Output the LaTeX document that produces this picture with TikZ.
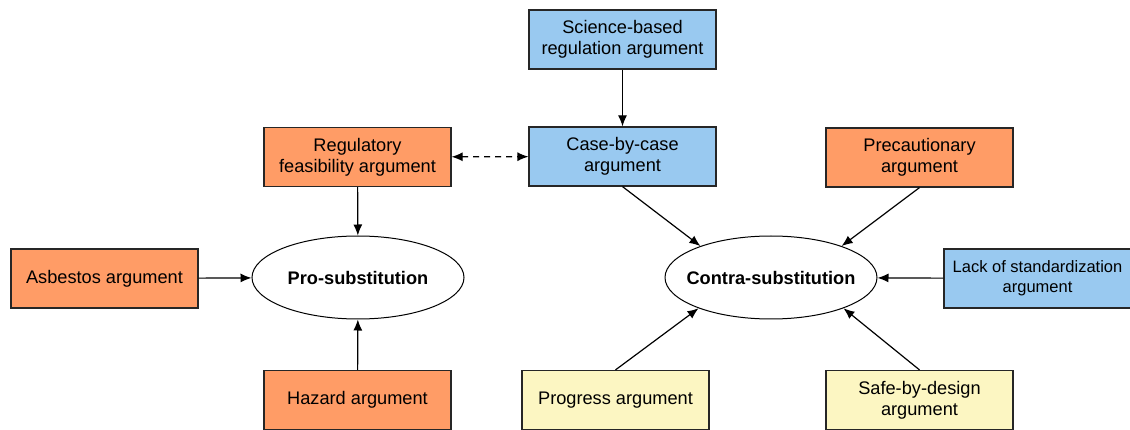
\documentclass[tikz,border=0pt]{standalone}
\usepackage{fontspec}
\setmainfont{Liberation Sans}
\usetikzlibrary{arrows.meta,shapes.geometric}
\definecolor{orng}{HTML}{FF9C66}
\definecolor{blu}{HTML}{99C9F0}
\definecolor{ylw}{HTML}{FCF6C2}
\tikzset{
  box/.style={draw=black!85, line width=1.2pt, minimum width=187pt, minimum height=59pt, inner sep=2pt, align=center, font=\fontsize{18.2}{21}\selectfont},
  obox/.style={box, fill=orng},
  bbox/.style={box, fill=blu},
  ybox/.style={box, fill=ylw},
  oval/.style={draw=black, line width=1pt, ellipse, minimum width=212pt, minimum height=83pt, inner sep=0pt, font=\fontsize{18.2}{21}\selectfont\bfseries},
  arr/.style={line width=1.2pt, -{Latex[length=11pt,width=9pt]}},
  darr/.style={line width=1.2pt, dashed, dash pattern=on 6pt off 5pt, {Latex[length=11pt,width=9pt]}-{Latex[length=11pt,width=9pt]}}
}
\begin{document}
\begin{tikzpicture}[x=1pt,y=-1pt]
\useasboundingbox (0,0) rectangle (1130,430);
\node[obox] (reg) at (357.5,157) {Regulatory\\feasibility argument};
\node[obox] (asb) at (104.5,278.5) {Asbestos argument};
\node[oval] (pro) at (358,277.5) {\makebox[0pt][c]{Pro-substitution}};
\node[obox] (haz) at (357.5,400) {Hazard argument};
\node[bbox] (sci) at (622.5,39.5) {Science-based\\regulation argument};
\node[bbox] (cbc) at (622.5,156.5) {Case-by-case\\argument};
\node[obox] (pre) at (919.5,157.5) {Precautionary\\argument};
\node[oval] (con) at (771,277.5) {\makebox[0pt][c]{Contra-substitution}};
\node[bbox, font=\fontsize{16.5}{20}\selectfont] (lack) at (1037.5,278.5) {Lack of standardization\\argument};
\node[ybox] (prog) at (615.5,400) {Progress argument};
\node[ybox] (safe) at (919.5,400) {Safe-by-design\\argument};
\draw[arr] (reg) -- (pro);
\draw[arr] (asb) -- (pro);
\draw[arr] (haz) -- (pro);
\draw[arr] (sci) -- (cbc);
\draw[darr] (reg) -- (cbc);
\draw[arr] (cbc.south) -- (con.156);
\draw[arr] (pre.south) -- (con.24);
\draw[arr] (lack) -- (con);
\draw[arr] (prog.north) -- (con.203);
\draw[arr] (safe.north) -- (con.337);
\end{tikzpicture}
\end{document}
